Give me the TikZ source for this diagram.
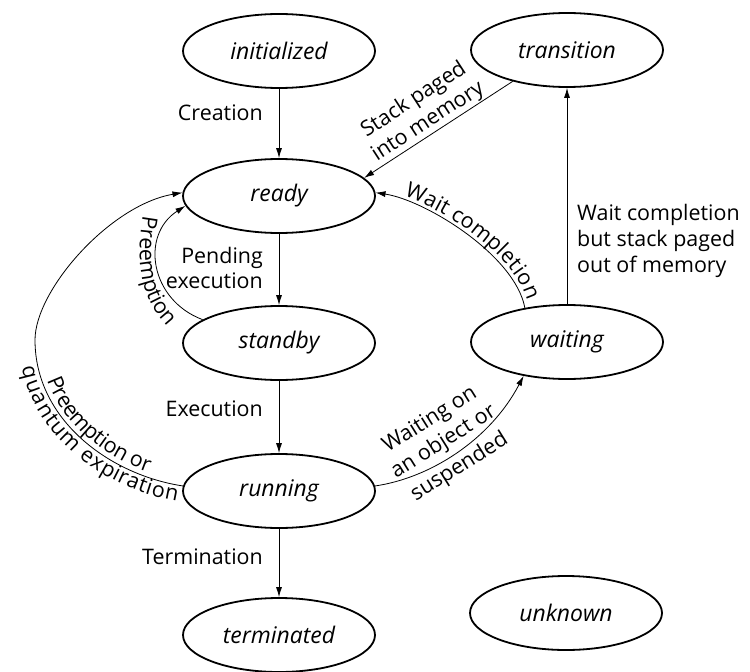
\documentclass[tikz,border=0pt]{standalone}
\usepackage{fontspec}
\setmainfont{Open Sans}
\usetikzlibrary{shapes.geometric,arrows.meta,decorations.text}
\newcommand\labfont{\fontsize{21.5}{26}\selectfont}
\newcommand\statefont{\fontsize{23}{26}\selectfont\itshape}
\begin{document}
\begin{tikzpicture}[x=1bp,y=-1bp,
  state/.style={ellipse,draw,line width=1.8bp,minimum width=192bp,minimum height=74bp,inner sep=0pt,font=\statefont},
  conn/.style={line width=0.8bp,-{Latex[length=10bp,width=6bp]}},
  lab/.style={font=\labfont,inner sep=0pt}
  ]
\useasboundingbox[fill=white] (0,0) rectangle (750,672);

\node[state] (init) at (279,51) {initialized};
\node[state] (transition) at (567,50) {transition};
\node[state] (ready) at (279,196) {ready};
\node[state] (standby) at (279,343) {standby};
\node[state] (waiting) at (567,342) {waiting};
\node[state] (running) at (279,491) {running};
\node[state] (terminated) at (279,635) {terminated};
\node[state] (unknown) at (566,613) {unknown};

\coordinate (pl) at (35,340);
\coordinate (pa) at (143,216);
\coordinate (pb) at (172,331);

% straight connectors
\draw[conn] (init.south) -- (ready.north);
\draw[conn] (ready.south) -- (standby.north);
\draw[conn] (standby.south) -- (running.north);
\draw[conn] (running.south) -- (terminated.north);
\draw[conn] (transition.210) -- (ready.12);
\draw[conn] (waiting.north) -- (transition.south);

% curved connectors
\draw[conn] (waiting.141) .. controls (515,255) and (425,200) .. (ready.2);
\draw[conn] (standby.163) .. controls (150,300) and (140,235) .. (ready.186);
\draw[conn] (running.177) .. controls (110,475) and (35,420) .. (pl)
            .. controls (35,290) and (110,205) .. (ready.178);
\draw[conn] (running.3) .. controls (430,478) and (490,440) .. (waiting.218);

% labels
\node[lab,anchor=east] (lcre) at (263,113) {Creation};
\node[lab,anchor=east,align=right] (lpend) at (263,268) {Pending\\execution};
\node[lab,anchor=east] (lexe) at (263,409) {Execution};
\node[lab,anchor=east] (lterm) at (263,557) {Termination};
\node[lab,rotate=33,align=center] (lstack) at (421,111) {Stack paged\\into memory};
\node[lab,anchor=west,align=left] (lwcs) at (577,241) {Wait completion\\but stack paged\\out of memory};
\node[lab,rotate=32,align=center] (lwobj) at (445,444) {Waiting on\\an object or\\[4bp]suspended};

% text along curves
\path[decorate,decoration={text along path,raise=4bp,text align={left indent=28bp},
  text={|\labfont|Wait completion}}]
  (ready.2) .. controls (425,200) and (515,255) .. (waiting.141);
\path[decorate,decoration={text along path,text align={left indent=0bp},
  text={|\labfont|Preemption}}]
  (pa) .. controls (135,262) and (140,302) .. (pb);
\path[decorate,decoration={text along path,raise=5bp,text align={left indent=43bp},
  text={|\labfont|Preemption or}}]
  (pl) .. controls (35,420) and (110,475) .. (running.177);
\path[decorate,decoration={text along path,raise=-16bp,text align={left indent=24bp},
  text={|\labfont|quantum expiration}}]
  (pl) .. controls (35,420) and (110,475) .. (running.177);
\end{tikzpicture}
\end{document}
